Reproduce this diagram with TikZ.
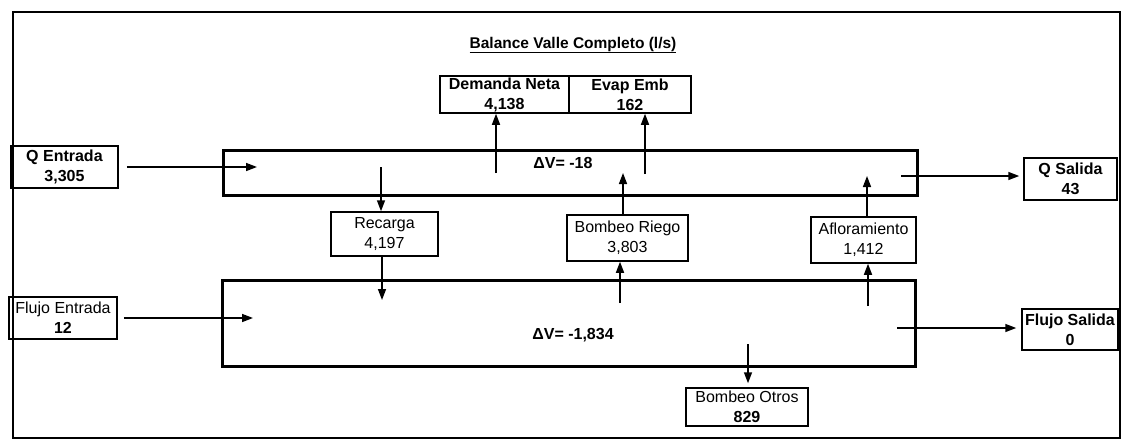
\documentclass[tikz,border=0pt]{standalone}
\usepackage{fontspec}
\setmainfont{Liberation Sans}
\usetikzlibrary{arrows.meta}
\begin{document}
\begin{tikzpicture}[x=1pt,y=-1pt,
  box/.style={draw, line width=1.5pt, inner sep=0pt, align=center, font=\fontsize{16}{20}\selectfont},
  res/.style={draw, line width=3pt, inner sep=0pt},
  arr/.style={line width=1.5pt, -{Triangle[length=11pt,width=8pt]}},
  lbl/.style={font=\bfseries\fontsize{16}{19}\selectfont, inner sep=0pt}]
\useasboundingbox (0,0) rectangle (1124,447);
\fill[white] (0,0) rectangle (1124,447);
% frame
\node[draw, line width=2.2pt, minimum width=1107pt, minimum height=426pt, inner sep=0pt] (frame) at (566.5,225) {};
% reservoirs
\node[res, minimum width=694pt, minimum height=45pt] (top) at (570,172.5) {};
\node[res, minimum width=693pt, minimum height=86pt] (low) at (568.5,323) {};
% title
\node[font=\bfseries\fontsize{15.5}{18}\selectfont, inner sep=0pt] (title) at (573,45) {\underline{Balance Valle Completo (l/s)}};
% boxes
\node[box, minimum width=107pt, minimum height=42pt] (qe) at (64.5,167) {\textbf{Q Entrada}\\\textbf{3,305}};
\node[box, minimum width=108pt, minimum height=42pt] (fe) at (63,318) {Flujo Entrada\\\textbf{12}};
\node[box, minimum width=107pt, minimum height=44pt] (rec) at (384.5,234) {Recarga\\4,197};
\node[box, minimum width=129pt, minimum height=37pt] (dn) at (504.5,94.5) {\textbf{Demanda Neta}\\\textbf{4,138}};
\node[box, minimum width=122pt, minimum height=37pt] (ev) at (630,94.5) {\textbf{Evap Emb}\\\textbf{162}};
\node[box, minimum width=121pt, minimum height=46pt] (br) at (627.5,238) {Bombeo Riego\\3,803};
\node[box, minimum width=122pt, minimum height=38pt] (bo) at (747,407) {Bombeo Otros\\\textbf{829}};
\node[box, minimum width=105pt, minimum height=46pt] (af) at (863.5,240) {Afloramiento\\1,412};
\node[box, minimum width=93pt, minimum height=42pt] (qs) at (1070.5,179) {\textbf{Q Salida}\\\textbf{43}};
\node[box, minimum width=96pt, minimum height=41pt] (fs) at (1070,329.5) {\textbf{Flujo Salida}\\\textbf{0}};
% balance labels
\node[lbl] (dv1) at (563,163) {ΔV= -18};
\node[lbl] (dv2) at (573,335) {ΔV= -1,834};
% free ends
\coordinate (qein) at (257,167);
\coordinate (fein) at (253,318);
\coordinate (qsout) at (901,176);
\coordinate (fsout) at (897,328);
\coordinate (rin) at (381,167);
\coordinate (rout) at (382,300);
\coordinate (dnin) at (496,173);
\coordinate (evin) at (645,174);
\coordinate (brup) at (623,173);
\coordinate (brin) at (620,303);
\coordinate (afin) at (868,306);
\coordinate (afup) at (867,176);
\coordinate (boin) at (748,344);
% arrows
\draw[arr] ([xshift=8pt]qe.east) -- (qein);
\draw[arr] ([xshift=6pt]fe.east) -- (fein);
\draw[arr, shorten >=4pt] (qsout) -- (qsout -| qs.west);
\draw[arr, shorten >=5pt] (fsout) -- (fsout -| fs.west);
\draw[arr] (rin) -- (rin |- rec.north);
\draw[arr] (rout |- rec.south) -- (rout);
\draw[arr] (dnin) -- (dnin |- dn.south);
\draw[arr] (evin) -- (evin |- ev.south);
\draw[arr] (brup |- br.north) -- (brup);
\draw[arr] (brin) -- (brin |- br.south);
\draw[arr] (afin) -- (afin |- af.south);
\draw[arr] (afup |- af.north) -- (afup);
\draw[arr, shorten >=4pt] (boin) -- (boin |- bo.north);
\end{tikzpicture}
\end{document}
